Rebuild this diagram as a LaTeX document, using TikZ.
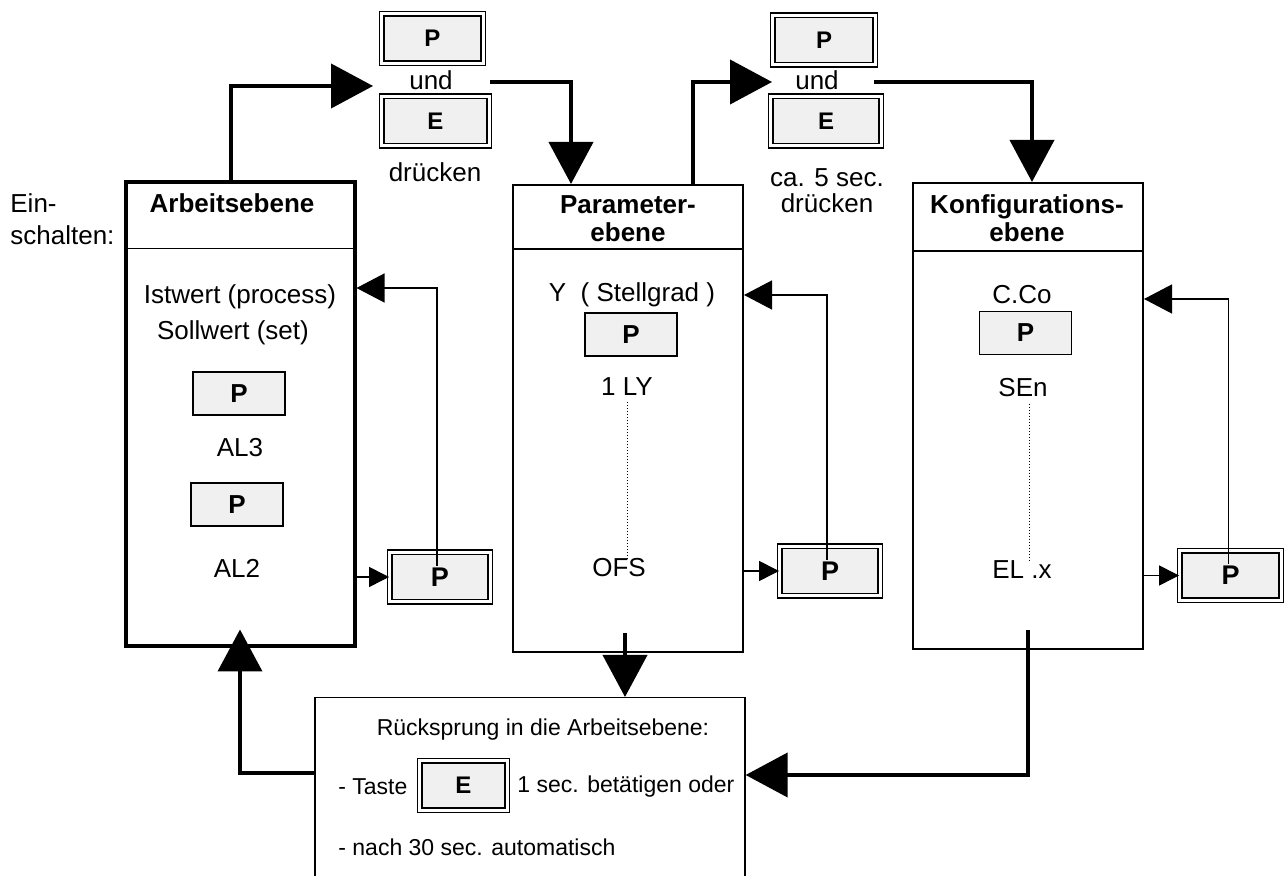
\documentclass[tikz,border=0pt]{standalone}
\usepackage{fontspec}
\setmainfont{Liberation Sans}
\usetikzlibrary{arrows.meta}
\definecolor{keygray}{RGB}{240,240,240}
\newcommand{\txt}{\fontsize{13}{14}\selectfont}
\newcommand{\txtsm}{\fontsize{11.5}{13}\selectfont}
\newcommand{\keyfnt}{\fontsize{12}{13}\selectfont\bfseries}
\newcommand{\keyfntbig}{\fontsize{13.5}{14}\selectfont\bfseries}
\tikzstyle{ebenebox} = [rectangle, minimum width=115pt, minimum height=233pt, draw=black, line width=1pt]
\tikzstyle{keybox} = [rectangle, minimum width=50.7pt, minimum height=24.7pt, inner sep=0pt, draw=black, fill=keygray, double, double distance=1.5pt, line width=0.75pt, font=\keyfnt]
\tikzstyle{pbox} = [rectangle, minimum width=46pt, minimum height=21.5pt, inner sep=0pt, draw=black, fill=keygray, line width=0.7pt, font=\txt\bfseries]
\tikzstyle{itemtxt} = [inner sep=0pt, font=\txt, align=center]
\tikzstyle{smalltxt} = [inner sep=0pt, font=\txtsm, anchor=west]
\tikzstyle{headtxt} = [inner sep=0pt, font=\txt\bfseries, align=center]

\begin{document}
\begin{tikzpicture}[x=0.5pt, y=-0.5pt]
    \tikzset{myptr/.style={line width=2pt, -{Triangle[length=21pt, width=22pt]}},
    retptr/.style={line width=0.65pt, -{Triangle[length=14pt, width=14.5pt]}},
    keyptr/.style={line width=0.65pt, -{Triangle[length=10pt, width=10pt]}}}
\useasboundingbox (0,0) rectangle (1287,876);
\clip (0,0) rectangle (1287,876);

\node (Arb) [ebenebox, line width=2pt, minimum width=114.5pt, minimum height=232pt] at (240,414.5) {};
\node (Par) [ebenebox, minimum height=233.5pt] at (628,418.5) {};
\node (Konf) [ebenebox] at (1028,416) {};
\node (Ruck) [ebenebox, line width=0.65pt, minimum width=215pt, minimum height=150pt, anchor=north] at (530,697) {};

\draw [line width=0.9pt] ([yshift=-34pt]Arb.north west) -- ([yshift=-34pt]Arb.north east);
\draw [line width=0.9pt] ([yshift=-32.5pt]Par.north west) -- ([yshift=-32.5pt]Par.north east);
\draw [line width=0.9pt] ([yshift=-34.5pt]Konf.north west) -- ([yshift=-34.5pt]Konf.north east);

\node (Ein) [itemtxt, align=left, anchor=west] at (10,219) {Ein-\\[2pt]schalten:};
\node (ArbHead) [headtxt] at (232,203) {Arbeitsebene};
\node (Ist) [itemtxt] at (240,297) {Istwert (process)};
\node (Soll) [itemtxt] at (233,333) {Sollwert (set)};
\node (PA1) [pbox] at (239,393.5) {P};
\node (AL3) [itemtxt] at (240,448) {AL3};
\node (PA2) [pbox] at (237,504.5) {P};
\node (AL2) [itemtxt] at (237,568) {AL2};
\node (KA) [keybox, minimum width=50.2pt, font=\keyfntbig] at (440,577) {P};

\node (ParHead) [headtxt] at (628,219) {Parameter-\\ebene};
\node (Yst) [itemtxt] at (632,295) {Y\ \ ( Stellgrad )};
\node (PB1) [pbox] at (631,334.5) {P};
\node (LY) [itemtxt] at (627,387) {1 LY};
\node (OFS) [itemtxt] at (619,568) {OFS};
\node (KB) [keybox, minimum width=50.2pt, font=\keyfntbig] at (830,571) {P};

\node (KonfHead) [headtxt] at (1027,218) {Konfigurations-\\ebene};
\node (CCo) [itemtxt] at (1022,295) {C.Co};
\node (PC1) [pbox] at (1025.5,333) {P};
\node (SEn) [itemtxt] at (1023,388) {SEn};
\node (ELx) [itemtxt] at (1022,570) {EL .x};
\node (KC) [keybox, font=\keyfntbig] at (1230.5,575.5) {P};

\node (KP1) [keybox] at (432.5,38.5) {P};
\node (Und1) [itemtxt] at (431,80) {und};
\node (KE1) [keybox, minimum width=53.7pt] at (435.5,121) {E};
\node (Dr1) [itemtxt] at (435,172) {drücken};
\node (KP2) [keybox, minimum width=51.2pt] at (824,40) {P};
\node (Und2) [itemtxt] at (817,80) {und};
\node (KE2) [keybox, minimum width=55.2pt] at (826,121) {E};
\node (Dr2) [itemtxt] at (827,191) {ca. 5 sec.\\[-1pt]drücken};

\node (RuckHead) [itemtxt, font=\txtsm] at (543,730) {Rücksprung in die Arbeitsebene:};
\node (Taste) [smalltxt] at (338,787) {- Taste};
\node (KE3) [keybox, minimum width=43.7pt] at (463.5,785.5) {E};
\node (Sec) [smalltxt] at (517,787) {1 sec. betätigen oder};
\node (Nach) [smalltxt] at (338,847) {- nach 30 sec. automatisch};

\draw [densely dotted, line width=0.5pt] ([yshift=-3pt]LY.south) -- (LY.south |- OFS.north);
\draw [densely dotted, line width=0.5pt] ([xshift=3pt, yshift=-3pt]SEn.south) -- ([xshift=3pt]SEn.south |- ELx.north);

\draw [keyptr] (Arb.east |- KA) -- (KA.west);
\draw [retptr] ([xshift=-1.5pt, yshift=-7pt]KA.north) |- ([yshift=4.5pt]Arb.east |- Ist);
\draw [keyptr] (Par.east |- KB) -- (KB.west);
\draw [retptr] ([xshift=-1.5pt, yshift=-7pt]KB.north) |- (Par.east |- Yst);
\draw [keyptr] (Konf.east |- KC) -- (KC.west);
\draw [retptr] ([xshift=-1pt, yshift=-7pt]KC.north) |- ([yshift=-2pt]Konf.east |- CCo);

\draw [myptr, shorten >=4pt] ([xshift=-4.5pt]Arb.north) |- ([yshift=-3pt]KP1.west |- Und1);
\draw [myptr] ([yshift=-1pt]KE1.east |- Und1) -| ([xshift=-28.5pt]Par.north);
\draw [myptr] ([xshift=32.5pt]Par.north) |- ([yshift=-1pt]KP2.west |- Und2);
\draw [myptr] ([xshift=-4pt, yshift=-1pt]KE2.east |- Und2) -| ([xshift=2pt]Konf.north);
\draw [myptr] ([xshift=-1.5pt, yshift=10pt]Par.south) -- ([xshift=-1.5pt]Par.south |- Ruck.north);
\draw [myptr] ([yshift=10pt]Konf.south) |- ([yshift=-39pt]Ruck.north east);
\draw [myptr] ([yshift=-38pt]Ruck.north west) -| ([yshift=9.5pt]Arb.south);
\end{tikzpicture}
\end{document}
